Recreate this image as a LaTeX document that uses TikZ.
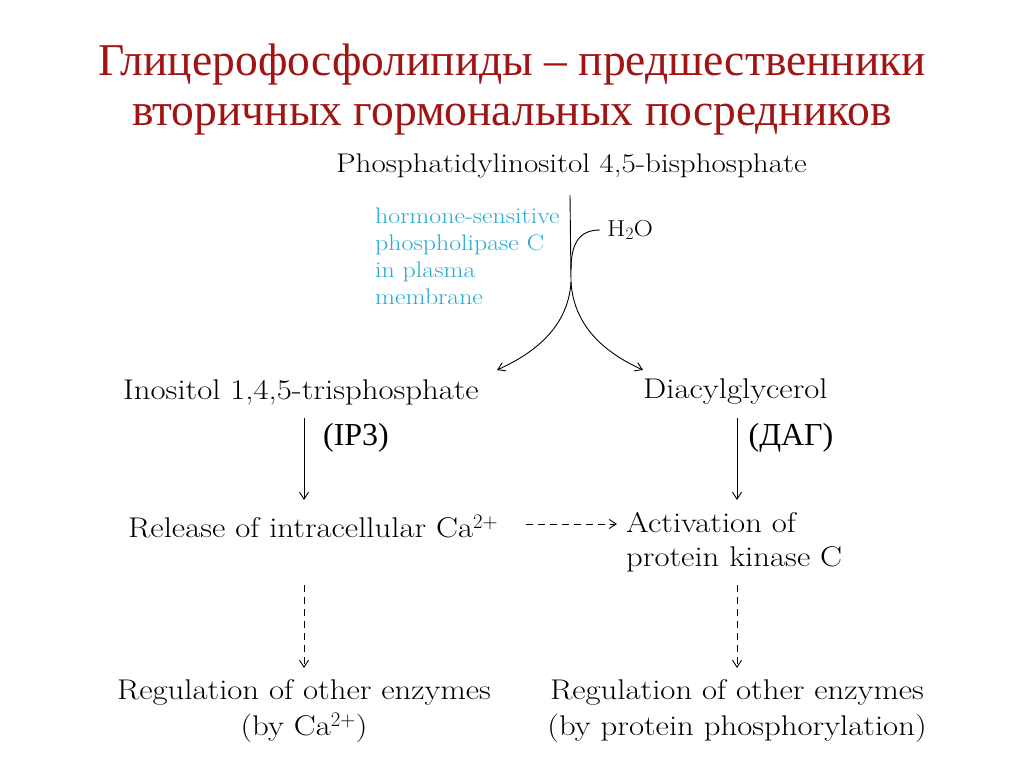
\documentclass[tikz,border=0pt]{standalone}
\usepackage{fontspec}
\setmainfont{Latin Modern Roman}[FakeStretch=1.15]
\newfontfamily\titlefont{Liberation Serif}
\usetikzlibrary{arrows.meta}
\definecolor{titlered}{RGB}{160,20,20}
\definecolor{hblue}{RGB}{40,170,210}
\begin{document}
\begin{tikzpicture}[x=1pt,y=-1pt,
  txt/.style={font=\fontsize{28.5}{34}\selectfont, inner sep=0pt, align=left},
  arr/.style={-{Straight Barb[length=7pt,width=9pt]}, line width=0.9pt},
  darr/.style={arr, dashed, dash pattern=on 7pt off 5pt}]
\useasboundingbox[fill=white] (0,0) rectangle (1024,767);
\node[font=\titlefont\fontsize{45.5}{50}\selectfont, text=titlered, align=center] (title) at (512,90)
 {Глицерофосфолипиды – предшественники\\вторичных гормональных посредников};
\node[txt, anchor=west, font=\fontsize{27}{31}\selectfont] (pip) at (336,166) {Phosphatidylinositol 4,5-bisphosphate};
\node[txt, anchor=north west, text=hblue, font=\fontsize{22.5}{27}\selectfont] (enz) at (375,208)
 {hormone-sensitive\\phospholipase C\\in plasma\\membrane};
\node[txt, anchor=west, font=\fontsize{23}{25}\selectfont] (h2o) at (607,230) {H$_2$O};
\node[txt, anchor=west] (ip3) at (123,392) {Inositol 1,4,5-trisphosphate};
\node[txt, anchor=west] (dag) at (643,392) {Diacylglycerol};
\node[font=\titlefont\fontsize{32}{34}\selectfont] (ip3l) at (356,438) {(IP3)};
\node[font=\titlefont\fontsize{32}{34}\selectfont] (dagl) at (791,438) {(ДАГ)};
\node[txt, anchor=west] (ca) at (128,527) {Release of intracellular Ca$^{2+}$};
\node[txt, anchor=north west] (pkc) at (626,512) {Activation of\\protein kinase C};
\node[txt, align=center, font=\fontsize{28.5}{36}\selectfont] (reg1) at (304,711) {Regulation of other enzymes\\(by Ca$^{2+}$)};
\node[txt, align=center, font=\fontsize{28.5}{36}\selectfont] (reg2) at (737,711) {Regulation of other enzymes\\(by protein phosphorylation)};
\coordinate (top) at (570,195);
\coordinate (mid) at (571,282);
\coordinate (ip3t) at (497,370);
\coordinate (dagt) at (643,370);
\draw[line width=0.9pt] (top) -- (mid);
\draw[line width=0.9pt] (600,230) .. controls (578,230) and (571,245) .. (571,270);
\draw[arr] (mid) .. controls (568,330) and (530,355) .. (ip3t);
\draw[arr] (mid) .. controls (574,330) and (610,355) .. (dagt);
\draw[arr] (304,418) -- (304,500);
\draw[arr] (737,418) -- (737,500);
\draw[darr] (526,524) -- (617,524);
\draw[darr] (304,585) -- (304,668);
\draw[darr] (737,585) -- (737,668);
\end{tikzpicture}
\end{document}
